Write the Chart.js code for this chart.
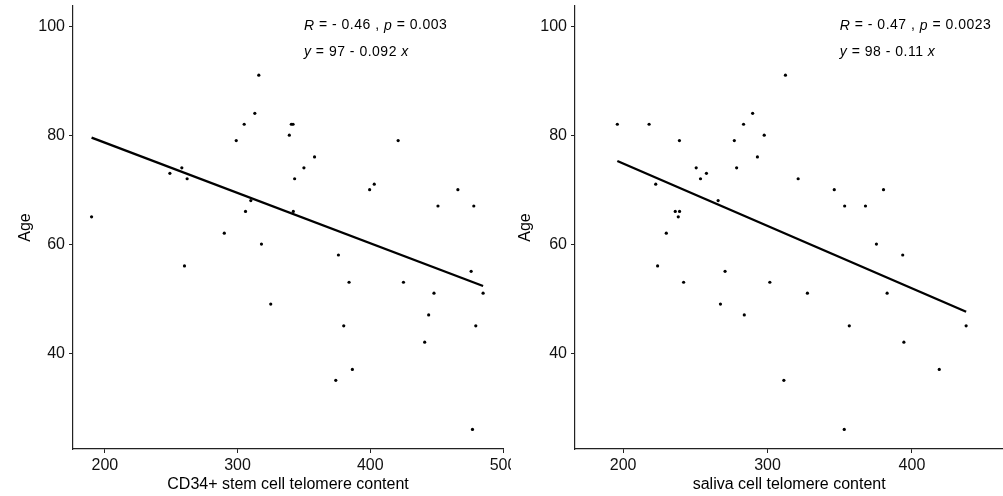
<!DOCTYPE html>
<html>
<head>
<meta charset="utf-8">
<script src="https://cdn.jsdelivr.net/npm/chart.js@4.4.1/dist/chart.umd.min.js"></script>
<style>
  body { margin: 0; background: #fff; }
  #wrap { position: relative; width: 1003px; height: 496px; overflow: hidden; }
  #left { position: absolute; left: 0; top: 0; }
  #right { position: absolute; left: 511px; top: 0; }
</style>
</head>
<body>
<div id="wrap">
  <div id="left"><canvas id="chartLeft" width="511" height="496"></canvas></div>
  <div id="right"><canvas id="chartRight" width="494" height="496"></canvas></div>
</div>
<script>
// CD34+ stem cell telomere content vs age
let stemX = [190, 316, 313, 305, 299, 340.5, 341.8, 339, 358, 350, 343, 258, 249, 262, 421, 399.5, 403, 466, 451, 478,
             310, 306, 342, 290, 318, 260, 376, 325, 384, 425, 476, 448, 485, 444, 380, 479.5, 441, 386.5, 374, 477];
let stemAge = [65, 91, 84, 82, 79, 82, 82, 80, 76, 74, 72, 74, 73, 72, 79, 70, 71, 70, 67, 67,
               68, 66, 66, 62, 60, 56, 58, 49, 53, 53, 55, 51, 51, 47, 45, 45, 42, 37, 35, 26];

// saliva cell telomere content vs age
let salivaX = [196, 218, 239, 222.6, 250.6, 253.6, 257.7, 277, 283.4, 289.7, 297.7, 278.6, 293, 312.4, 321.2, 346.2, 353.4, 367.8, 380.3, 265.8,
               236.1, 239.1, 238.2, 229.9, 375.4, 393.6, 223.9, 270.6, 241.9, 301.6, 327.6, 382.8, 267.4, 283.9, 356.6, 437.5, 394.4, 418.9, 311.3, 353.1];
let salivaAge = [82, 82, 79, 71, 74, 72, 73, 79, 82, 84, 80, 74, 76, 91, 72, 70, 67, 67, 70, 68,
                 66, 66, 65, 62, 60, 58, 56, 55, 53, 53, 51, 51, 49, 47, 45, 45, 42, 37, 35, 26];

let ageTicks = [40, 60, 80, 100];
let stemTicks = [200, 300, 400, 500];
let salivaTicks = [200, 300, 400];

let stemStats = ["R", " = - 0.46 , ", "p", " = 0.003"];
let stemEq = ["y", " = 97 - 0.092 ", "x"];
let salivaStats = ["R", " = - 0.47 , ", "p", " = 0.0023"];
let salivaEq = ["y", " = 98 - 0.11 ", "x"];

const FONT = "'Liberation Sans', Arial, Helvetica, sans-serif";

function fitLine(xs, ys) {
    let n = xs.length, mx = 0, my = 0;
    for (let i = 0; i < n; i++) { mx += xs[i]; my += ys[i]; }
    mx /= n; my /= n;
    let sxy = 0, sxx = 0;
    for (let i = 0; i < n; i++) { sxy += (xs[i] - mx) * (ys[i] - my); sxx += (xs[i] - mx) ** 2; }
    let b = sxy / sxx, a = my - b * mx;
    let x0 = Math.min(...xs), x1 = Math.max(...xs);
    return [{x: x0, y: a + b * x0}, {x: x1, y: a + b * x1}];
}

// rich text: even-indexed pieces italic (symbols), odd plain
function labelPlugin(lines) {
    return {
        id: 'corLabel',
        afterDraw(chart) {
            const ctx = chart.ctx;
            const sx = chart.scales.x, sy = chart.scales.y;
            ctx.save();
            ctx.fillStyle = '#000';
            ctx.textBaseline = 'middle';
            if ('letterSpacing' in ctx) ctx.letterSpacing = '0.5px';
            lines.forEach(l => {
                let px = sx.getPixelForValue(350);
                let py = sy.getPixelForValue(l.y);
                l.parts.forEach((t, i) => {
                    ctx.font = (i % 2 === 0 ? 'italic ' : '') + '14px ' + FONT;
                    ctx.fillText(t, px, py);
                    px += ctx.measureText(t).width;
                });
            });
            ctx.restore();
        }
    };
}

function makeConfig(xs, ys, xTicks, xMin, xMax, xTitle, yAxisWidth, titlePad, rightPad, lines) {
    return {
        type: 'scatter',
        data: {
            datasets: [{
                data: xs.map((v, i) => ({x: v, y: ys[i]})),
                pointRadius: 1.6,
                pointHoverRadius: 1.6,
                backgroundColor: '#000',
                borderWidth: 0
            }, {
                type: 'line',
                data: fitLine(xs, ys),
                borderColor: '#000',
                borderWidth: 2.4,
                pointRadius: 0,
                fill: false
            }]
        },
        options: {
            responsive: false,
            animation: false,
            events: [],
            layout: { padding: { top: 6, right: rightPad, left: 0, bottom: 0 } },
            plugins: { legend: { display: false }, tooltip: { enabled: false } },
            scales: {
                x: {
                    type: 'linear',
                    min: xMin, max: xMax,
                    afterBuildTicks: s => { s.ticks = xTicks.map(v => ({value: v})); },
                    afterFit: s => { s.height = 47; s.paddingLeft = 0; s.paddingRight = 0; },
                    grid: { display: true, drawOnChartArea: false, drawTicks: true, tickLength: 4, color: '#222', lineWidth: 1 },
                    border: { display: true, color: '#222', width: 1.2 },
                    ticks: { color: '#111', padding: 3, maxRotation: 0, font: { family: FONT, size: 16 } },
                    title: { display: true, text: xTitle, color: '#000', padding: { top: 0, bottom: 2 }, font: { family: FONT, size: 16 } }
                },
                y: {
                    min: 22.4, max: 103.7,
                    afterBuildTicks: s => { s.ticks = ageTicks.map(v => ({value: v})); },
                    afterFit: s => { s.width = yAxisWidth; s.paddingTop = 0; s.paddingBottom = 0; },
                    grid: { display: true, drawOnChartArea: false, drawTicks: true, tickLength: 4, color: '#222', lineWidth: 1 },
                    border: { display: true, color: '#222', width: 1.2 },
                    ticks: { color: '#111', padding: 4, font: { family: FONT, size: 16 } },
                    title: { display: true, text: 'Age', color: '#000', padding: { top: titlePad, bottom: 0 }, font: { family: FONT, size: 16 } }
                }
            }
        },
        plugins: [labelPlugin(lines)]
    };
}

new Chart('chartLeft', makeConfig(stemX, stemAge, stemTicks, 176, 500, 'CD34+ stem cell telomere content', 73, 15.7, 8,
    [{y: 100.1, parts: stemStats}, {y: 95.2, parts: stemEq}]));

new Chart('chartRight', makeConfig(salivaX, salivaAge, salivaTicks, 166.7, 463.3, 'saliva cell telomere content', 64, 5.4, 0,
    [{y: 100.1, parts: salivaStats}, {y: 95.2, parts: salivaEq}]));
</script>
</body>
</html>
